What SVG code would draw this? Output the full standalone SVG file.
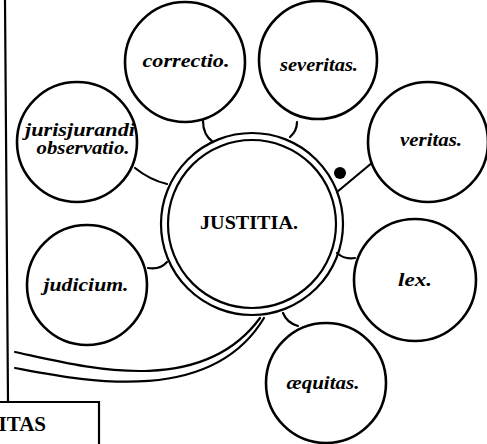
<svg xmlns="http://www.w3.org/2000/svg" width="487" height="444" viewBox="0 0 487 444">
<style>
.sat{fill:#fff;stroke:#000;stroke-width:2.6}
.ring{fill:none;stroke:#000;stroke-width:2.2}
.lbl{font-family:"Liberation Serif",serif;font-style:italic;font-weight:bold;font-size:18px;text-anchor:middle;fill:#000}
.cap{font-family:"Liberation Serif",serif;font-weight:bold;text-anchor:middle;fill:#000}
.con{fill:none;stroke:#000;stroke-width:2.2;stroke-linecap:round}
.frame{fill:none;stroke:#000;stroke-width:2.2}
</style>
<rect width="487" height="444" fill="#fff"/>
<g id="frame">
<path class="frame" d="M5,0 L8,402 M0,402 H99"/>
<path class="frame" d="M99,401 V444" stroke-width="3.2"/>
<text class="cap" x="46" y="431" font-size="21" style="text-anchor:end">ITAS</text>
</g>
<g id="connectors">
<path class="con" d="M203,121 Q203,135 213,142"/>
<path class="con" d="M297,122 Q297,131 290,137"/>
<path class="con" d="M373,162 L337,192"/>
<path class="con" d="M135,168 Q150,180 167,184"/>
<path class="con" d="M148,268 Q160,270 167,262"/>
<path class="con" d="M337,253 Q345,260 355,258"/>
<path class="con" d="M283,313 Q287,323 298,326"/>
<circle cx="340" cy="173" r="6" fill="#000"/>
<path class="con" d="M15,352 C80,366 200,400 260,318" stroke-width="2.8"/>
<path class="con" d="M15,368 C80,380 210,408 264,318" stroke-width="2.2"/>
</g>
<g id="justitia">
<circle class="ring" cx="252" cy="224" r="91"/>
<circle class="ring" cx="252" cy="224" r="84"/>
<text class="cap" x="249" y="229" font-size="18" textLength="98" lengthAdjust="spacingAndGlyphs">JUSTITIA.</text>
</g>
<g id="correctio">
<circle class="sat" cx="185" cy="62" r="60"/>
<text class="lbl" x="186" y="67" textLength="87" lengthAdjust="spacingAndGlyphs">correctio.</text>
</g>
<g id="severitas">
<circle class="sat" cx="318" cy="60" r="59"/>
<text class="lbl" x="319" y="71" textLength="78" lengthAdjust="spacingAndGlyphs">severitas.</text>
</g>
<g id="veritas">
<circle class="sat" cx="428" cy="142" r="60"/>
<text class="lbl" x="431" y="146" textLength="62" lengthAdjust="spacingAndGlyphs">veritas.</text>
</g>
<g id="jurisjurandi">
<circle class="sat" cx="77" cy="142" r="60"/>
<text class="lbl" x="80" y="136" textLength="110" lengthAdjust="spacingAndGlyphs">jurisjurandi</text>
<text class="lbl" x="83" y="154" textLength="93" lengthAdjust="spacingAndGlyphs">observatio.</text>
</g>
<g id="judicium">
<circle class="sat" cx="87" cy="285" r="60"/>
<text class="lbl" x="86" y="291" textLength="85" lengthAdjust="spacingAndGlyphs">judicium.</text>
</g>
<g id="lex">
<circle class="sat" cx="415" cy="280" r="61"/>
<text class="lbl" x="415" y="286" textLength="34" lengthAdjust="spacingAndGlyphs">lex.</text>
</g>
<g id="aequitas">
<circle class="sat" cx="326" cy="383" r="60"/>
<text class="lbl" x="323" y="389" textLength="73" lengthAdjust="spacingAndGlyphs">æquitas.</text>
</g>
</svg>
